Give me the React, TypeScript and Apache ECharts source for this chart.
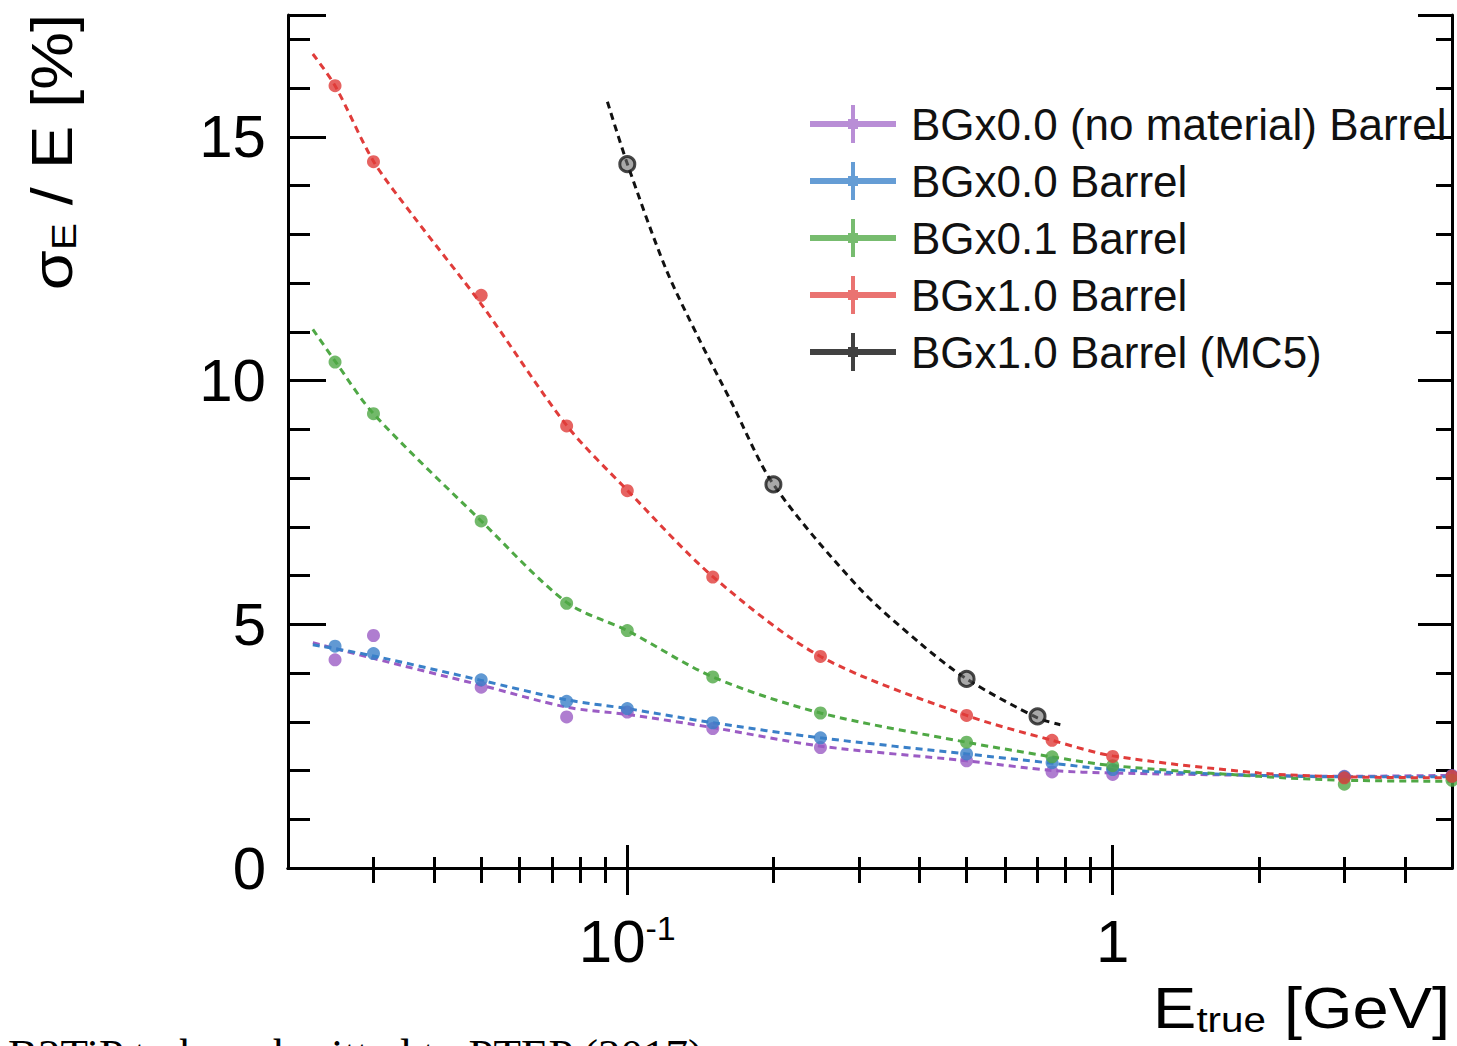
import React, { useEffect, useRef } from "react";
import * as echarts from "echarts";

// ---- data ----
const energies = [0.025, 0.03, 0.05, 0.075, 0.1, 0.15, 0.25, 0.5, 0.75, 1, 3, 5];
const purpleVals = [4.27, 4.77, 3.71, 3.1, 3.2, 2.86, 2.47, 2.2, 1.97, 1.92, 1.88, 1.9];
const blueVals = [4.55, 4.4, 3.86, 3.42, 3.27, 2.98, 2.67, 2.34, 2.16, 2.02, 1.87, 1.88];
const greenVals = [10.38, 9.32, 7.12, 5.43, 4.87, 3.92, 3.18, 2.58, 2.28, 2.1, 1.72, 1.8];
const redVals = [16.05, 14.49, 11.75, 9.07, 7.74, 5.97, 4.34, 3.13, 2.62, 2.29, 1.85, 1.88];
const blackEnergies = [0.1, 0.2, 0.5, 0.7];
const blackVals = [14.44, 7.87, 3.88, 3.11];

// fit curves (dashed)
const purpleFitE = [0.0225, 0.03, 0.05, 0.075, 0.1, 0.15, 0.25, 0.5, 0.75, 1, 2, 3, 5];
const purpleFitV = [4.62, 4.3, 3.75, 3.3, 3.15, 2.88, 2.5, 2.2, 2.0, 1.95, 1.9, 1.88, 1.9];
const blueFitE = [0.0225, 0.03, 0.05, 0.075, 0.1, 0.15, 0.25, 0.5, 0.75, 1, 2, 3, 5];
const blueFitV = [4.58, 4.35, 3.85, 3.45, 3.27, 2.98, 2.67, 2.34, 2.15, 2.02, 1.9, 1.87, 1.87];
const greenFitE = [0.0225, 0.025, 0.03, 0.05, 0.075, 0.1, 0.15, 0.25, 0.5, 0.75, 1, 2, 3, 5];
const greenFitV = [11.05, 10.4, 9.32, 7.12, 5.45, 4.87, 3.92, 3.18, 2.58, 2.28, 2.1, 1.88, 1.8, 1.78];
const redFitE = [0.0225, 0.025, 0.03, 0.0362, 0.05, 0.075, 0.1, 0.15, 0.25, 0.5, 0.75, 1, 2, 3, 5];
const redFitV = [16.7, 16.05, 14.5, 13.38, 11.57, 9.08, 7.75, 5.98, 4.34, 3.13, 2.62, 2.3, 1.95, 1.87, 1.85];
const blackFitE = [0.091, 0.1, 0.12, 0.1406, 0.164, 0.2, 0.3, 0.4, 0.5, 0.7, 0.78];
const blackFitV = [15.72, 14.45, 12.3, 10.85, 9.55, 7.87, 5.75, 4.62, 3.88, 3.08, 2.94];

const seriesNames = [
  "BGx0.0 (no material) Barrel",
  "BGx0.0 Barrel",
  "BGx0.1 Barrel",
  "BGx1.0 Barrel",
  "BGx1.0 Barrel (MC5)",
];
const colors = ["#9b5cc4", "#3a80c8", "#4fa845", "#e03c3a", "#111111"];
const legendColors = ["#a772cc", "#3f84cb", "#55ab4b", "#e5504e", "#111111"];

const xMajorTicks = [0.1, 1];
const xMinorTicks = [0.03, 0.04, 0.05, 0.06, 0.07, 0.08, 0.09, 0.2, 0.3, 0.4, 0.5, 0.6, 0.7, 0.8, 0.9, 2, 3, 4];
const yTickLabels = [0, 5, 10, 15];

const FONT = "Liberation Sans";

const legendIcon =
  "path://M0,16L86,16L86,22L0,22Z M41,0L45,0L45,38L41,38Z M38,14L48,14L48,24L38,24Z M96,19L96,19Z";

export default function App() {
  const ref = useRef<HTMLDivElement>(null);
  useEffect(() => {
    if (!ref.current) return;
    const chart = echarts.init(ref.current, null, { renderer: "svg" });

    const pts = (xs: number[], ys: number[]) => xs.map((x, i) => [x, ys[i]]);
    const pointSets = [
      pts(energies, purpleVals),
      pts(energies, blueVals),
      pts(energies, greenVals),
      pts(energies, redVals),
      pts(blackEnergies, blackVals),
    ];
    const fitSets = [
      pts(purpleFitE, purpleFitV),
      pts(blueFitE, blueFitV),
      pts(greenFitE, greenFitV),
      pts(redFitE, redFitV),
      pts(blackFitE, blackFitV),
    ];

    const fitSeries = fitSets.map((d, i) => ({
      type: "line",
      name: "fit" + i,
      data: d,
      xAxisIndex: 0,
      yAxisIndex: 0,
      showSymbol: false,
      smooth: 0.3,
      z: 2,
      lineStyle: { color: colors[i], width: 3, type: [7, 5] },
    }));
    const pointSeries = pointSets.map((d, i) => ({
      type: "scatter",
      name: seriesNames[i],
      data: d,
      xAxisIndex: 0,
      yAxisIndex: 0,
      symbol: "circle",
      symbolSize: i === 4 ? 15 : 13,
      z: 3,
      itemStyle:
        i === 4
          ? { color: "rgba(110,110,110,0.75)", borderColor: "#1a1a1a", borderWidth: 3 }
          : { color: colors[i] },
    }));

    const baseX = {
      type: "log",
      min: 0.02,
      max: 5,
      splitLine: { show: false },
    };
    const baseY = {
      type: "value",
      min: 0,
      max: 17.5,
      splitLine: { show: false },
    };
    const lineOn = { show: true, lineStyle: { color: "#000", width: 3 } };
    const lineOff = { show: false };

    const option: any = {
      animation: false,
      grid: { left: 288, right: 5, top: 15, bottom: 178, containLabel: false, outerBoundsMode: "none" },
      xAxis: [
        {
          ...baseX,
          position: "bottom",
          axisLine: lineOn,
          axisTick: { show: true, inside: true, length: 23, lineStyle: { color: "#000", width: 3 }, customValues: xMajorTicks },
          axisLabel: {
            show: true,
            customValues: xMajorTicks,
            margin: 43,
            color: "#000",
            fontFamily: FONT,
            fontSize: 60,
            lineHeight: 60,
            formatter: (v: number) => (v < 0.5 ? "10{sup|-1}" : "1"),
            rich: {
              sup: { fontSize: 34, lineHeight: 30, verticalAlign: "top", fontFamily: FONT, color: "#000" },
            },
          },
        },
        {
          ...baseX,
          position: "bottom",
          axisLine: lineOff,
          axisTick: { show: true, inside: true, length: 11, lineStyle: { color: "#000", width: 3 }, customValues: xMinorTicks },
          axisLabel: { show: false },
        },
        {
          ...baseX,
          position: "top",
          axisLine: lineOn,
          axisTick: { show: true, inside: true, length: 27, lineStyle: { color: "#000", width: 3 }, customValues: xMajorTicks },
          axisLabel: { show: false },
        },
        {
          ...baseX,
          position: "top",
          axisLine: lineOff,
          axisTick: { show: true, inside: true, length: 15, lineStyle: { color: "#000", width: 3 }, customValues: xMinorTicks },
          axisLabel: { show: false },
        },
      ],
      yAxis: [
        {
          ...baseY,
          position: "left",
          interval: 5,
          axisLine: lineOn,
          axisTick: { show: true, inside: true, length: 38, lineStyle: { color: "#000", width: 3 } },
          axisLabel: {
            show: true,
            margin: 22,
            color: "#000",
            fontFamily: FONT,
            fontSize: 60,
            customValues: yTickLabels,
          },
        },
        {
          ...baseY,
          position: "left",
          interval: 1,
          axisLine: lineOff,
          axisTick: { show: true, inside: true, length: 22, lineStyle: { color: "#000", width: 3 } },
          axisLabel: { show: false },
        },
        {
          ...baseY,
          position: "right",
          interval: 5,
          axisLine: lineOn,
          axisTick: { show: true, inside: true, length: 34, lineStyle: { color: "#000", width: 3 } },
          axisLabel: { show: false },
        },
        {
          ...baseY,
          position: "right",
          interval: 1,
          axisLine: lineOff,
          axisTick: { show: true, inside: true, length: 16, lineStyle: { color: "#000", width: 3 } },
          axisLabel: { show: false },
        },
      ],
      legend: {
        orient: "vertical",
        left: 805,
        top: 97,
        itemWidth: 96,
        itemHeight: 38,
        itemGap: 13,
        selectedMode: false,
        icon: legendIcon,
        data: seriesNames.map((n, i) => ({ name: n, itemStyle: { color: legendColors[i], borderWidth: 0 } })),
        textStyle: { fontFamily: FONT, fontSize: 44, color: "#111" },
      },
      graphic: [
        {
          type: "text",
          x: 52,
          y: 152,
          rotation: Math.PI / 2,
          scaleX: 1.12,
          style: {
            text: "{a|σ}{b|E}{a| / E [%]}",
            align: "center",
            verticalAlign: "middle",
            fill: "#000",
            rich: {
              a: { fontFamily: FONT, fontSize: 58, lineHeight: 58, fill: "#000" },
              b: { fontFamily: FONT, fontSize: 36, lineHeight: 10, verticalAlign: "bottom", fill: "#000" },
            },
          },
        },
        {
          type: "text",
          x: 1450,
          y: 1008,
          scaleX: 1.12,
          style: {
            text: "{a|E}{b|true}{a| [GeV]}",
            align: "right",
            verticalAlign: "middle",
            fill: "#000",
            rich: {
              a: { fontFamily: FONT, fontSize: 58, lineHeight: 58, fill: "#000" },
              b: { fontFamily: FONT, fontSize: 36, lineHeight: 8, verticalAlign: "bottom", fill: "#000" },
            },
          },
        },
        {
          type: "text",
          x: 8,
          y: 1055,
          style: {
            text: "B2TiP to be submitted to PTEP (2017)",
            font: '45px "Liberation Serif"',
            fill: "#000",
            align: "left",
            verticalAlign: "middle",
          },
        },
      ],
      series: [...fitSeries, ...pointSeries],
    };
    chart.setOption(option);
    return () => chart.dispose();
  }, []);

  return (
    <div
      ref={ref}
      style={{ position: "absolute", left: 0, top: 0, width: 1457, height: 1046, background: "#fff" }}
    />
  );
}
